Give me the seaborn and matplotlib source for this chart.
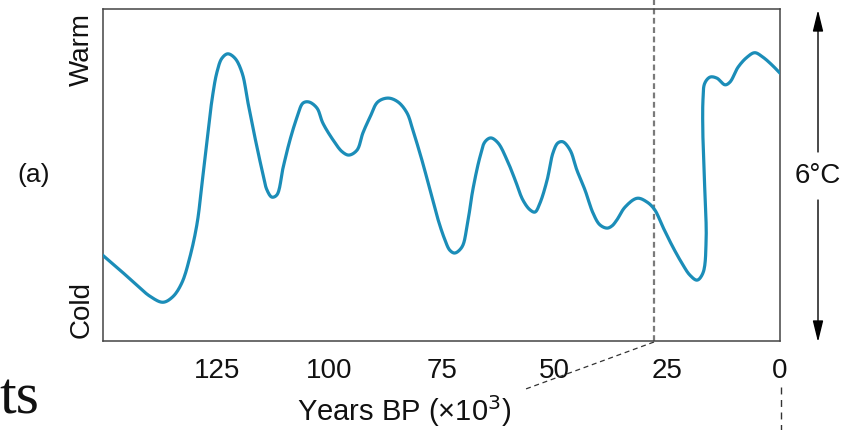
import matplotlib
matplotlib.use("Agg")
import matplotlib.pyplot as plt
from matplotlib.lines import Line2D
import seaborn as sns
import numpy as np
import pandas as pd

# Temperature record (years BP in thousands, relative temperature in degC)
years = [150.5, 146.5, 142.8, 139.9, 137.0, 134.8, 132.8, 131.0, 129.4, 128.3,
         127.2, 126.1, 125.0, 123.9, 122.6, 121.0, 119.4, 118.1, 116.6, 115.0,
         113.9, 112.8, 111.7, 110.3, 108.8, 107.2, 105.9, 104.6, 102.8, 101.5,
         99.2, 97.2, 95.7, 93.9, 92.6, 91.0, 89.3, 87.0, 84.8, 82.8,
         81.5, 79.5, 77.7, 75.9, 74.4, 73.3, 72.2, 70.6, 69.5, 68.2,
         66.6, 65.5, 64.2, 62.6, 60.6, 58.8, 57.1, 55.5, 54.4, 53.3,
         51.7, 50.4, 49.3, 48.2, 46.6, 45.1, 43.3, 41.5, 40.0, 38.4,
         37.3, 36.2, 34.4, 31.7, 29.5, 27.8, 26.0, 23.8, 21.8, 20.0,
         18.4, 17.1, 16.4, 16.7, 17.1, 17.1, 16.7, 15.5, 14.0, 12.2,
         11.1, 9.3, 7.3, 5.6, 3.8, 1.8, 0.0]
temps = [1.56, 1.28, 1.01, 0.81, 0.70, 0.80, 1.05, 1.52, 2.13, 2.86,
         3.63, 4.36, 4.86, 5.11, 5.19, 5.11, 4.84, 4.30, 3.69, 3.09,
         2.73, 2.60, 2.64, 3.14, 3.63, 4.05, 4.30, 4.32, 4.21, 3.94,
         3.63, 3.42, 3.36, 3.45, 3.76, 4.05, 4.32, 4.39, 4.32, 4.12,
         3.81, 3.27, 2.73, 2.19, 1.83, 1.64, 1.59, 1.70, 2.06, 2.73,
         3.33, 3.60, 3.67, 3.58, 3.27, 2.91, 2.55, 2.37, 2.33, 2.49,
         2.91, 3.40, 3.58, 3.60, 3.45, 3.09, 2.73, 2.31, 2.10, 2.04,
         2.08, 2.19, 2.42, 2.58, 2.51, 2.37, 2.06, 1.70, 1.41, 1.19,
         1.10, 1.23, 1.83, 2.73, 3.63, 4.36, 4.66, 4.77, 4.75, 4.63,
         4.68, 4.95, 5.13, 5.21, 5.13, 4.99, 4.84]
tick_years = [125, 100, 75, 50, 25, 0]
marker_year = 28


def smooth_curve(xs, ys, sx, sy, steps=14):
    """Centripetal Catmull-Rom spline through the points (drawn as a smooth line)."""
    P = np.column_stack([np.asarray(xs) * sx, np.asarray(ys) * sy])
    P = np.vstack([2 * P[0] - P[1], P, 2 * P[-1] - P[-2]])
    out = []
    for i in range(1, len(P) - 2):
        p0, p1, p2, p3 = P[i - 1], P[i], P[i + 1], P[i + 2]
        t0 = 0.0
        t1 = t0 + max(np.linalg.norm(p1 - p0), 1e-6) ** 0.5
        t2 = t1 + max(np.linalg.norm(p2 - p1), 1e-6) ** 0.5
        t3 = t2 + max(np.linalg.norm(p3 - p2), 1e-6) ** 0.5
        t = np.linspace(t1, t2, steps, endpoint=False)[:, None]
        a1 = (t1 - t) / (t1 - t0) * p0 + (t - t0) / (t1 - t0) * p1
        a2 = (t2 - t) / (t2 - t1) * p1 + (t - t1) / (t2 - t1) * p2
        a3 = (t3 - t) / (t3 - t2) * p2 + (t - t2) / (t3 - t2) * p3
        b1 = (t2 - t) / (t2 - t0) * a1 + (t - t0) / (t2 - t0) * a2
        b2 = (t3 - t) / (t3 - t1) * a2 + (t - t1) / (t3 - t1) * a3
        c = (t2 - t) / (t2 - t1) * b1 + (t - t1) / (t2 - t1) * b2
        out.append(c)
    out.append(P[-2][None, :])
    out = np.vstack(out)
    return out[:, 0] / sx, out[:, 1] / sy


sx_, sy_ = smooth_curve(years, temps, 4.504, 55.33)
df = pd.DataFrame({"years": sx_, "temp": sy_})

sns.set_theme(style="white")
plt.rcParams["font.family"] = ["Liberation Sans", "DejaVu Sans"]

W, H = 858, 430
fig = plt.figure(figsize=(W / 100, H / 100), dpi=100)
ax = fig.add_axes([103 / W, 1 - 341 / H, 677 / W, 332 / H])


def fx(px):
    return px / W


def fy(py):
    return 1 - py / H


line_color = "#1b8db8"
sns.lineplot(data=df, x="years", y="temp", sort=False, estimator=None,
             color=line_color, lw=2.3, ax=ax, zorder=3)
ax.lines[0].set_solid_joinstyle("round")
ax.lines[0].set_solid_capstyle("round")

ax.set_xlim(150.3, 0)
ax.set_ylim(0, 6)
ax.set_xticks(tick_years)
ax.set_xticklabels([str(t) for t in tick_years])
ax.set_yticks([])
ax.set_xlabel("")
ax.set_ylabel("")
ax.tick_params(axis="x", direction="in", length=9, width=1.0, color="#333333",
               labelsize=20, pad=12, labelcolor="#111111")
for sp in ax.spines.values():
    sp.set_color("#444444")
    sp.set_linewidth(1.1)
    sp.set_visible(True)

# vertical dashed marker through the plot
ax.axvline(marker_year, ymin=0, ymax=1 + 9 / 332, color="#7a7a7a", lw=1.6,
           dashes=(2.6, 1.6), clip_on=False, zorder=2)

# connector lines leading to the panel below
fig.add_artist(Line2D([fx(654), fx(523)], [fy(342), fy(390)], color="#333333",
                      lw=0.9, dashes=(4, 3)))
fig.add_artist(Line2D([fx(781), fx(781)], [fy(387), fy(430)], color="#333333",
                      lw=1.0, dashes=(5, 4)))

# axis annotations
fig.text(fx(82), fy(49), "Warm", rotation=90, ha="center", va="center",
         fontsize=20, color="#111111")
fig.text(fx(82), fy(310), "Cold", rotation=90, ha="center", va="center",
         fontsize=20, color="#111111")
fig.text(fx(34), fy(175), "(a)", ha="center", va="center", fontsize=19,
         color="#111111")
fig.text(fx(404), fy(411), "Years BP (\u00d710$^3$)", ha="center", va="center",
         fontsize=21, color="#111111")
fig.text(fx(818), fy(176), "6\u00b0C", ha="center", va="center", fontsize=20,
         color="#111111")
fig.text(fx(-1), fy(413), "ts", ha="left", va="baseline", fontsize=43,
         family=["Liberation Serif", "DejaVu Serif"], color="#111111")

# double-headed 6 degC scale arrow
arrow_kw = dict(arrowstyle="-|>,head_length=1.3,head_width=0.32", color="black",
                lw=1.0, mutation_scale=10, shrinkA=0, shrinkB=0)
ax.annotate("", xy=(fx(818), fy(10)), xytext=(fx(818), fy(152)),
            xycoords="figure fraction", textcoords="figure fraction",
            arrowprops=arrow_kw, annotation_clip=False)
ax.annotate("", xy=(fx(818), fy(342)), xytext=(fx(818), fy(200)),
            xycoords="figure fraction", textcoords="figure fraction",
            arrowprops=arrow_kw, annotation_clip=False)

fig.savefig("out.png", dpi=100, facecolor="white")
